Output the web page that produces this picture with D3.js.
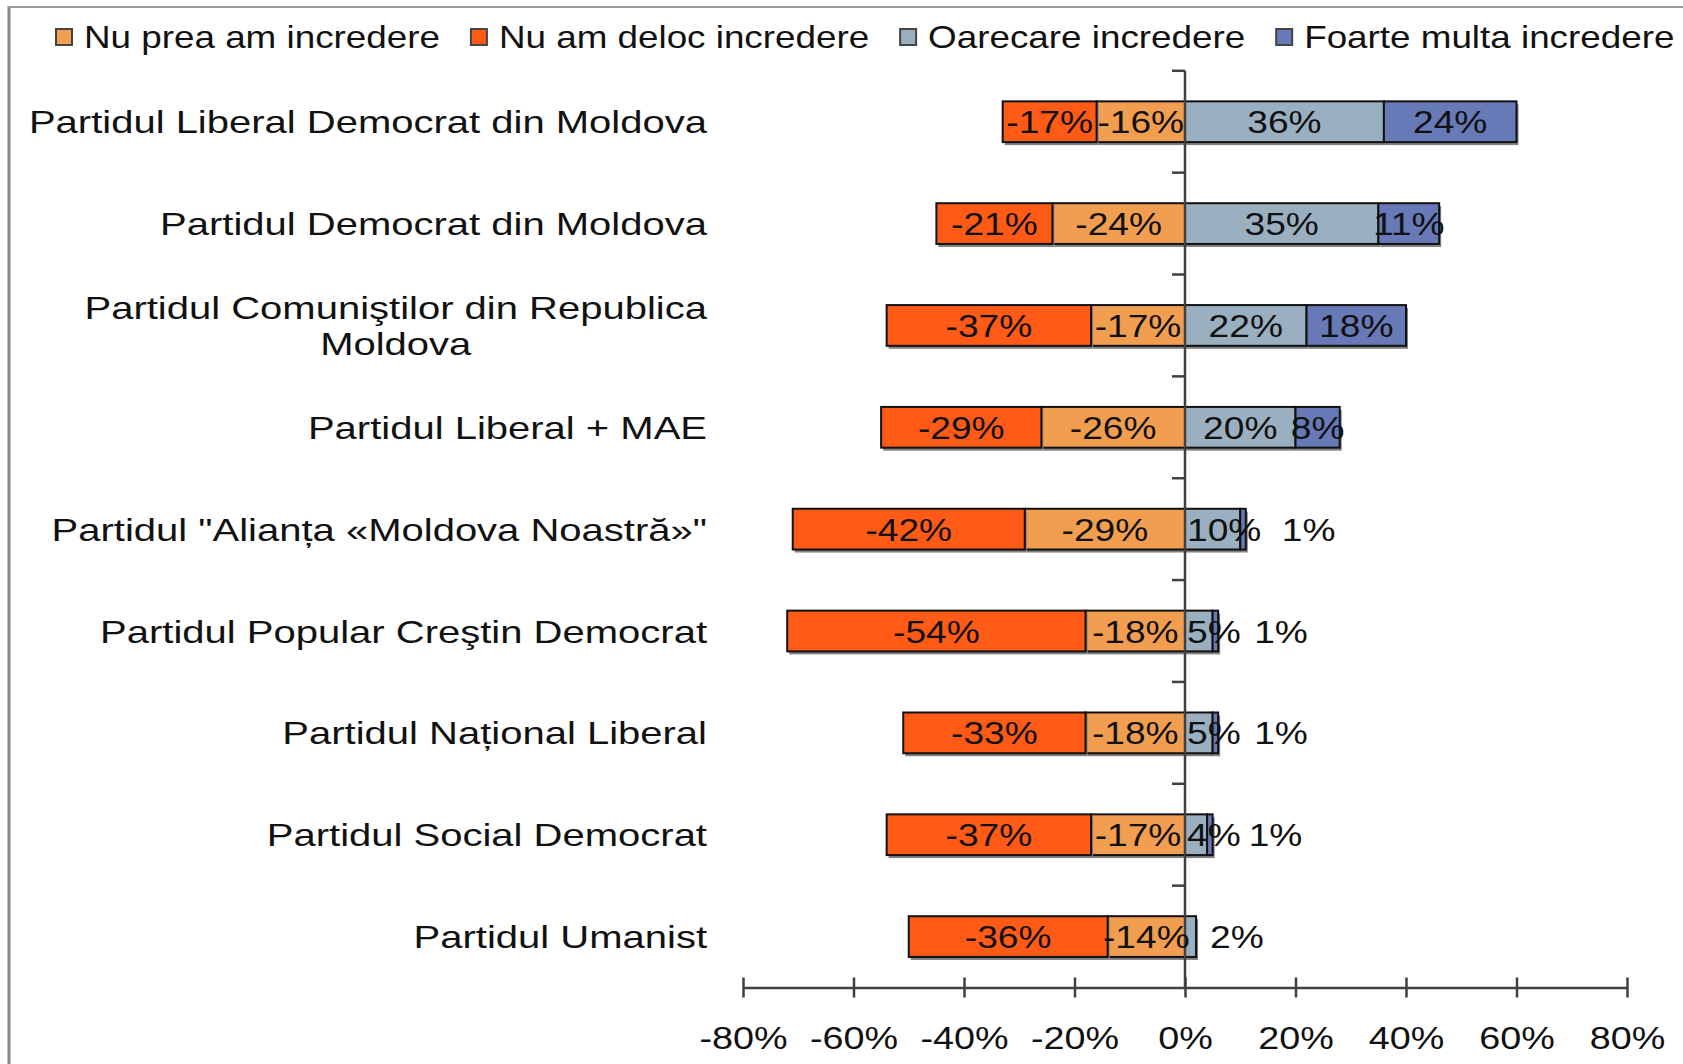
<!DOCTYPE html>
<html>
<head>
<meta charset="utf-8">
<script src="https://cdn.jsdelivr.net/npm/d3@7"></script>
<style>
  body { margin: 0; background: #fff; }
  text { font-family: "Liberation Sans", Arial, sans-serif; fill: #111; }
</style>
</head>
<body>
<div class="chart"></div>
<script>
var svgWidth = 1683;
var svgHeight = 1064;

// data
var categories = [
  "Partidul Liberal Democrat din Moldova",
  "Partidul Democrat din Moldova",
  "Partidul Comuniştilor din Republica Moldova",
  "Partidul Liberal + MAE",
  "Partidul \"Alianța «Moldova Noastră»\"",
  "Partidul Popular Creştin Democrat",
  "Partidul Național Liberal",
  "Partidul Social Democrat",
  "Partidul Umanist"
];
var preaValues     = [-16, -24, -17, -26, -29, -18, -18, -17, -14];
var delocValues    = [-17, -21, -37, -29, -42, -54, -33, -37, -36];
var oarecareValues = [36, 35, 22, 20, 10, 5, 5, 4, 2];
var foarteValues   = [24, 11, 18, 8, 1, 1, 1, 1, 0];
var xTicks = [-80, -60, -40, -20, 0, 20, 40, 60, 80];

var keys = ["prea", "deloc", "oarecare", "foarte"];
var legendLabels = ["Nu prea am incredere", "Nu am deloc incredere", "Oarecare incredere", "Foarte multa incredere"];
var colors = { prea: "#F29E50", deloc: "#FF5A16", oarecare: "#9AB0C0", foarte: "#6779B6" };

var table = categories.map(function(c, i) {
  return { cat: c, prea: preaValues[i], deloc: delocValues[i], oarecare: oarecareValues[i], foarte: foarteValues[i] };
});

var svg = d3.select(".chart")
  .append("svg")
  .attr("width", svgWidth)
  .attr("height", svgHeight);

// stretch text horizontally, the original is wider than plain Arial
function stretch(sel, k) {
  sel.each(function() {
    var w = this.getComputedTextLength();
    if (w > 0) d3.select(this).attr("textLength", w * k).attr("lengthAdjust", "spacingAndGlyphs");
  });
}

// frame
svg.append("line").attr("x1", 9).attr("x2", 9).attr("y1", 6).attr("y2", svgHeight)
  .attr("stroke", "#888").attr("stroke-width", 3);
svg.append("line").attr("x1", 8).attr("x2", svgWidth).attr("y1", 7).attr("y2", 7)
  .attr("stroke", "#999").attr("stroke-width", 2);

var xScale = d3.scaleLinear().domain([-80, 80]).range([743, 1627]);
var yScale = d3.scaleBand().domain(categories).range([70.8, 987.5])
  .paddingInner(0.6).paddingOuter(0.3);

var series = d3.stack().keys(keys).offset(d3.stackOffsetDiverging)(table);

// bars
var layers = svg.selectAll("g.layer")
  .data(series)
  .enter()
  .append("g")
  .attr("class", "layer");

layers.selectAll("rect.shadow")
  .data(function(s) { return s; })
  .enter()
  .append("rect")
  .attr("class", "shadow")
  .attr("x", function(d) { return xScale(d[0]) + 2; })
  .attr("y", function(d) { return yScale(d.data.cat) + 3; })
  .attr("width", function(d) { return Math.abs(xScale(d[1]) - xScale(d[0])); })
  .attr("height", yScale.bandwidth())
  .attr("fill", "#808080");

layers.selectAll("rect.seg")
  .data(function(s) { return s.map(function(d) { d.key = s.key; return d; }); })
  .enter()
  .append("rect")
  .attr("class", "seg")
  .attr("x", function(d) { return Math.min(xScale(d[0]), xScale(d[1])); })
  .attr("y", function(d) { return yScale(d.data.cat); })
  .attr("width", function(d) { return Math.abs(xScale(d[1]) - xScale(d[0])); })
  .attr("height", yScale.bandwidth())
  .attr("fill", function(d) { return colors[d.key]; })
  .attr("stroke", function(d) { return d[1] === d[0] ? "none" : "#111"; })
  .attr("stroke-width", 2);

// vertical category axis at 0
var axisX = xScale(0);
svg.append("line").attr("x1", axisX).attr("x2", axisX)
  .attr("y1", 70.8).attr("y2", 987.5)
  .attr("stroke", "#404040").attr("stroke-width", 2.5);
var bounds = categories.map(function(c) { return yScale(c) - yScale.step() * 0.3; });
svg.selectAll("line.ytick")
  .data(bounds)
  .enter()
  .append("line")
  .attr("class", "ytick")
  .attr("x1", axisX - 13).attr("x2", axisX)
  .attr("y1", function(d) { return d; }).attr("y2", function(d) { return d; })
  .attr("stroke", "#404040").attr("stroke-width", 2.5);

// data labels
var valK = 1.16;
var probeVal = svg.append("text").style("font-size", "32px");
var labels = [];
series.forEach(function(s) {
  s.forEach(function(d) {
    var v = d.data[s.key];
    if (v === 0) return;
    var row = d.data;
    var posEnd = row.oarecare + row.foarte;
    var segW = Math.abs(xScale(d[1]) - xScale(d[0]));
    probeVal.text(v + "%");
    var textW = probeVal.node().getComputedTextLength() * valK;
    var outside = v > 0 && v <= 2 && d[1] === posEnd;
    var lx, anchor;
    if (outside) {
      lx = xScale(d[1]) + (s.key === "foarte" ? 36 : 14);
      anchor = "start";
    } else if (s.key === "oarecare" && textW > segW) {
      lx = xScale(d[0]) + 2;
      anchor = "start";
    } else {
      lx = xScale((d[0] + d[1]) / 2);
      anchor = "middle";
    }
    labels.push({ x: lx, y: yScale(row.cat) + yScale.bandwidth() / 2, text: v + "%", anchor: anchor });
  });
});
probeVal.remove();
var valueText = svg.selectAll("text.val")
  .data(labels)
  .enter()
  .append("text")
  .attr("class", "val")
  .attr("x", function(d) { return d.x; })
  .attr("y", function(d) { return d.y + 11.5; })
  .attr("text-anchor", function(d) { return d.anchor; })
  .style("font-size", "32px")
  .text(function(d) { return d.text; });
stretch(valueText, valK);

// category labels, wrapped and right aligned
var labelRight = 707;
var maxLabelWidth = 690;
var catK = 1.25;
categories.forEach(function(c) {
  var cy = yScale(c) + yScale.bandwidth() / 2;
  var probe = svg.append("text").style("font-size", "32px");
  var words = c.split(" ");
  var lines = [];
  var line = [];
  words.forEach(function(w) {
    var test = line.concat([w]).join(" ");
    probe.text(test);
    if (probe.node().getComputedTextLength() * catK > maxLabelWidth && line.length) {
      lines.push(line.join(" "));
      line = [w];
    } else {
      line.push(w);
    }
  });
  lines.push(line.join(" "));
  var widest = 0;
  lines.forEach(function(l) {
    probe.text(l);
    widest = Math.max(widest, probe.node().getComputedTextLength() * catK);
  });
  probe.remove();
  var lh = 36.5;
  var top = cy - (lines.length - 1) * lh / 2;
  var t = svg.selectAll(null)
    .data(lines)
    .enter()
    .append("text")
    .attr("class", "cat")
    .attr("x", labelRight - widest / 2)
    .attr("y", function(d, i) { return top + i * lh + 11.5; })
    .attr("text-anchor", "middle")
    .style("font-size", "32px")
    .text(function(d) { return d; });
  stretch(t, catK);
});

// x axis
var xAxis = d3.axisBottom(xScale)
  .tickValues(xTicks)
  .tickSize(0)
  .tickPadding(0)
  .tickFormat(function(d) { return d + "%"; });
var xg = svg.append("g")
  .attr("transform", "translate(0, 987.5)")
  .call(xAxis);
xg.select(".domain").attr("stroke", "#404040").attr("stroke-width", 2.5);
xg.selectAll(".tick line").attr("y1", -10).attr("y2", 10)
  .attr("stroke", "#404040").attr("stroke-width", 2.5);
var tickText = xg.selectAll(".tick text")
  .attr("dy", null)
  .attr("y", 61)
  .attr("fill", "#111")
  .style("font-size", "32px")
  .style("font-family", "\"Liberation Sans\", Arial, sans-serif");
stretch(tickText, 1.18);

// legend
var legK = 1.15;
var lx = 56;
keys.forEach(function(k, i) {
  svg.append("rect")
    .attr("x", lx).attr("y", 29)
    .attr("width", 16).attr("height", 16)
    .attr("fill", colors[k])
    .attr("stroke", "#444").attr("stroke-width", 2);
  var t = svg.append("text")
    .attr("x", lx + 28).attr("y", 48)
    .style("font-size", "32px")
    .text(legendLabels[i]);
  var w = t.node().getComputedTextLength() * legK;
  stretch(t, legK);
  lx = lx + 28 + w + 31;
});
</script>
</body>
</html>
